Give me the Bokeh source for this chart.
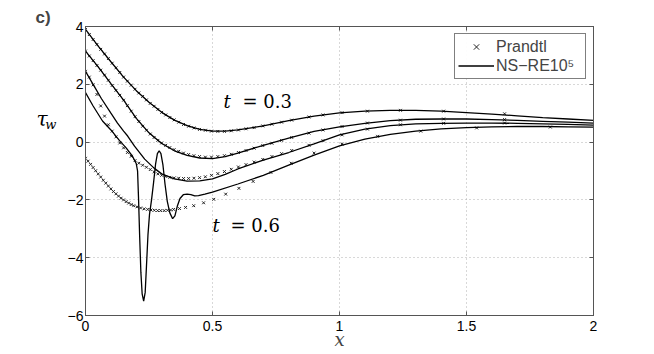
from bokeh.plotting import figure
from bokeh.models import Range1d, FixedTicker, LinearAxis, Label, Legend, LegendItem
from bokeh.embed import file_html
from bokeh.resources import INLINE

# ---------------- data ----------------
x_ticks = [0, 0.5, 1, 1.5, 2]
x_tick_labels = ["0", "0.5", "1", "1.5", "2"]
y_ticks = [-6, -4, -2, 0, 2, 4]
y_tick_labels = ["\u22126", "\u22124", "\u22122", "0", "2", "4"]

# Navier-Stokes (Re = 1e5) wall shear curves
ns_a_x = [0, 0.05, 0.1, 0.15, 0.2, 0.25, 0.3, 0.35, 0.4, 0.45, 0.5, 0.55, 0.6, 0.7, 0.8, 0.9,
          1.0, 1.1, 1.2, 1.3, 1.4, 1.5, 1.6, 1.7, 1.8, 1.9, 2.0]
ns_a_y = [3.9, 3.32, 2.78, 2.25, 1.78, 1.38, 1.03, 0.76, 0.57, 0.44, 0.38, 0.38, 0.42, 0.56, 0.74, 0.9,
          1.01, 1.07, 1.1, 1.1, 1.07, 1.02, 0.97, 0.91, 0.85, 0.8, 0.75]

ns_b_x = [0, 0.05, 0.1, 0.15, 0.2, 0.25, 0.3, 0.35, 0.4, 0.45, 0.5, 0.55, 0.6, 0.7, 0.8, 0.9,
          1.0, 1.1, 1.2, 1.3, 1.4, 1.5, 1.6, 1.7, 1.8, 1.9, 2.0]
ns_b_y = [3.15, 2.6, 2.02, 1.45, 0.82, 0.32, -0.05, -0.3, -0.46, -0.55, -0.57, -0.5, -0.38, -0.11, 0.14, 0.37,
          0.53, 0.65, 0.74, 0.79, 0.8, 0.8, 0.78, 0.75, 0.72, 0.69, 0.66]

ns_c_x = [0, 0.03, 0.063, 0.1, 0.126, 0.15, 0.166, 0.193, 0.233, 0.27, 0.3, 0.35, 0.4, 0.45, 0.5, 0.55,
          0.6, 0.7, 0.8, 0.9, 1.0, 1.1, 1.2, 1.3, 1.4, 1.5, 1.6, 1.7, 1.8, 1.9, 2.0]
ns_c_y = [2.45, 2.0, 1.5, 1.0, 0.66, 0.38, 0.21, -0.14, -0.59, -0.9, -1.1, -1.27, -1.35, -1.34, -1.27, -1.12,
          -0.93, -0.62, -0.36, -0.06, 0.25, 0.45, 0.57, 0.63, 0.65, 0.66, 0.66, 0.65, 0.63, 0.61, 0.59]

ns_d_x = [0, 0.03, 0.067, 0.1, 0.134, 0.16, 0.185, 0.2, 0.205, 0.209, 0.213, 0.218, 0.223, 0.229, 0.235,
          0.24, 0.246, 0.252, 0.26, 0.268, 0.276, 0.283, 0.29, 0.297, 0.305, 0.313, 0.322, 0.332, 0.343,
          0.352, 0.362, 0.372, 0.385, 0.4, 0.415, 0.43, 0.445, 0.47, 0.5, 0.6, 0.7, 0.8, 0.9, 1.0, 1.1,
          1.2, 1.3, 1.4, 1.5, 1.6, 1.7, 1.8, 1.9, 2.0]
ns_d_y = [1.71, 1.25, 0.73, 0.42, 0.05, -0.2, -0.49, -0.75, -1.0, -2.0, -3.2, -4.5, -5.25, -5.5, -5.2,
          -4.3, -3.2, -2.5, -2.0, -1.4, -0.75, -0.4, -0.3, -0.4, -0.8, -1.45, -2.05, -2.45, -2.65,
          -2.55, -2.2, -1.95, -1.82, -1.8, -1.82, -1.86, -1.85, -1.8, -1.73, -1.45, -1.15, -0.8, -0.45, -0.13, 0.1,
          0.27, 0.38, 0.46, 0.5, 0.53, 0.54, 0.54, 0.53, 0.52]

# Prandtl solutions (markers)
prandtl_x = [0, 0.015, 0.03, 0.045, 0.06, 0.075, 0.09, 0.105, 0.12, 0.135,
             0.15, 0.165, 0.18, 0.195, 0.21, 0.225, 0.24, 0.255, 0.27, 0.285,
             0.3, 0.316, 0.332, 0.349, 0.367, 0.386, 0.406, 0.427, 0.449, 0.472,
             0.496, 0.521, 0.547, 0.574, 0.602, 0.632, 0.664, 0.698, 0.734, 0.772,
             0.812, 0.88, 0.935, 1.01, 1.11, 1.24, 1.41, 1.65]
prandtl_a = [3.9, 3.72, 3.55, 3.38, 3.21, 3.05, 2.89, 2.73, 2.57, 2.41,
             2.25, 2.11, 1.97, 1.83, 1.7, 1.58, 1.46, 1.34, 1.24, 1.13,
             1.03, 0.94, 0.85, 0.77, 0.69, 0.61, 0.55, 0.49, 0.44, 0.41,
             0.38, 0.37, 0.37, 0.39, 0.42, 0.46, 0.5, 0.56, 0.62, 0.69,
             0.76, 0.87, 0.94, 1.02, 1.07, 1.1, 1.07, 0.98]
prandtl_b = [3.15, 2.98, 2.82, 2.65, 2.49, 2.32, 2.14, 1.96, 1.79, 1.62,
             1.45, 1.26, 1.07, 0.88, 0.71, 0.55, 0.41, 0.28, 0.16, 0.06,
             -0.03, -0.11, -0.19, -0.26, -0.32, -0.38, -0.43, -0.47, -0.5, -0.52,
             -0.52, -0.5, -0.47, -0.42, -0.36, -0.29, -0.21, -0.12, -0.04, 0.06,
             0.16, 0.31, 0.42, 0.54, 0.66, 0.76, 0.8, 0.78]
prandtl_c = [2.45, 2.25, 1.98, 1.65, 1.25, 0.9, 0.6, 0.38, 0.18, -0.03,
             -0.2, -0.36, -0.49, -0.64, -0.73, -0.8, -0.87, -0.95, -1.03, -1.1,
             -1.15, -1.19, -1.22, -1.24, -1.25, -1.26, -1.26, -1.25, -1.23, -1.2,
             -1.15, -1.09, -1.02, -0.94, -0.86, -0.78, -0.69, -0.6, -0.5, -0.4,
             -0.29, -0.11, 0.05, 0.25, 0.45, 0.6, 0.65, 0.66]
prandtl_e_x = [0, 0.01, 0.02, 0.03, 0.04, 0.05, 0.06, 0.07, 0.08, 0.09,
               0.1, 0.11, 0.12, 0.13, 0.14, 0.15, 0.16, 0.17, 0.18, 0.19,
               0.203, 0.217, 0.231, 0.245, 0.258, 0.271, 0.284, 0.296, 0.31, 0.323,
               0.335, 0.347, 0.37, 0.394, 0.426, 0.465, 0.505, 0.552, 0.604, 0.66,
               0.73, 0.81, 0.9, 1.01, 1.15, 1.32, 1.54, 1.83]
prandtl_e = [-0.56, -0.66, -0.77, -0.88, -0.99, -1.1, -1.21, -1.32, -1.42, -1.52,
             -1.62, -1.71, -1.79, -1.87, -1.94, -2.0, -2.06, -2.11, -2.16, -2.2,
             -2.24, -2.28, -2.31, -2.33, -2.35, -2.36, -2.37, -2.37, -2.37, -2.36,
             -2.35, -2.33, -2.3, -2.26, -2.2, -2.1, -1.98, -1.8, -1.6, -1.36,
             -1.05, -0.73, -0.38, -0.07, 0.2, 0.38, 0.49, 0.52]

legend_labels = ["Prandtl", "NS\u2212RE10\u2075"]

# ---------------- figure ----------------
W, H = 640, 354
FRAME = "#555555"
SERIF = "DejaVu Serif"
p = figure(width=W, height=H, x_range=Range1d(0, 2), y_range=Range1d(-6, 4),
           output_backend="svg", toolbar_location=None,
           min_border_left=85, min_border_right=47, min_border_top=26, min_border_bottom=39)
p.background_fill_color = "white"
p.border_fill_color = "white"
p.outline_line_color = FRAME
p.outline_line_width = 1

p.title.text = "c)"
p.title.text_font = "Liberation Sans"
p.title.text_font_style = "bold"
p.title.text_font_size = "17px"
p.title.align = "left"
p.title.offset = -50
p.title.standoff = 0

for ax, ticks, labels in ((p.xaxis[0], x_ticks, x_tick_labels), (p.yaxis[0], y_ticks, y_tick_labels)):
    ax.ticker = FixedTicker(ticks=ticks)
    ax.major_label_overrides = {t: l for t, l in zip(ticks, labels)}
    ax.major_tick_in = 4
    ax.major_tick_out = 0
    ax.minor_tick_line_color = None
    ax.axis_line_color = FRAME
    ax.major_tick_line_color = FRAME
    ax.major_label_text_font = "Liberation Sans"
    ax.major_label_text_font_size = "14px"
    ax.major_label_text_color = "black"
p.xaxis.major_label_standoff = 5
p.yaxis.major_label_standoff = 2

p.xaxis.axis_label = "x"
p.xaxis.axis_label_text_font = SERIF
p.xaxis.axis_label_text_font_style = "italic"
p.xaxis.axis_label_text_font_size = "18px"
p.xaxis.axis_label_standoff = -5

for ticks, side in ((x_ticks, "above"), (y_ticks, "right")):
    ax = LinearAxis(ticker=FixedTicker(ticks=ticks),
                    major_label_overrides={t: "" for t in ticks},
                    major_label_text_font_size="0px", major_label_standoff=0,
                    major_tick_in=4, major_tick_out=0, minor_tick_line_color=None,
                    axis_line_color=FRAME, major_tick_line_color=FRAME)
    p.add_layout(ax, side)

# y-axis symbol tau_w, built from two label-only axes placed left of the main axis;
# trailing blank lines lift the visible glyph above the axis centre
def symbol_axis(text, size, blank_lines, line_height, standoff):
    ax = LinearAxis(ticker=FixedTicker(ticks=[]), axis_label=text + "\n " * blank_lines,
                    axis_label_orientation="horizontal", axis_label_standoff=standoff,
                    axis_label_text_font=SERIF, axis_label_text_font_style="italic",
                    axis_label_text_font_size=size, axis_label_text_color="black",
                    axis_label_text_line_height=line_height,
                    axis_line_color=None, major_tick_line_color=None, minor_tick_line_color=None,
                    major_label_text_font_size="0px", major_tick_in=0, major_tick_out=0,
                    major_label_standoff=0)
    p.add_layout(ax, "left")

symbol_axis("w", "13px", 6, 1.025, 8)
symbol_axis("\u03c4", "20px", 4, 1.075, -5)

p.xgrid.ticker = FixedTicker(ticks=x_ticks)
p.ygrid.ticker = FixedTicker(ticks=y_ticks)
p.grid.grid_line_color = "#b0b0b0"
p.grid.grid_line_dash = "1 3"
p.grid.grid_line_width = 1

MK = dict(marker="x", size=4, line_color="#222222", line_width=1)
ra = p.scatter(prandtl_x, prandtl_a, **MK)
p.scatter(prandtl_x, prandtl_b, **MK)
p.scatter(prandtl_x, prandtl_c, **MK)
p.scatter(prandtl_e_x, prandtl_e, **MK)

LN = dict(line_color="black", line_width=1.3)
la = p.line(ns_a_x, ns_a_y, **LN)
p.line(ns_b_x, ns_b_y, **LN)
p.line(ns_c_x, ns_c_y, **LN)
p.line(ns_d_x, ns_d_y, **LN)

legend = Legend(items=[LegendItem(label=legend_labels[0], renderers=[ra]),
                       LegendItem(label=legend_labels[1], renderers=[la])],
                location="top_right", margin=7, padding=3, spacing=0,
                label_height=19, glyph_height=19, glyph_width=36, label_standoff=2,
                label_width=86, label_text_font="Liberation Sans", label_text_font_size="16px",
                border_line_color="black", border_line_width=1, background_fill_color="white")
p.add_layout(legend)

def lab(x, y, text, size, style="normal"):
    p.add_layout(Label(x=x, y=y, text=text, text_font=SERIF,
                       text_font_style=style, text_font_size=size, text_baseline="alphabetic",
                       text_align="left", text_color="black"))

# time annotations inside the frame (data units)
lab(0.543, 1.42, "t", "18px", "italic")
lab(0.618, 1.42, "= 0.3", "18px")
lab(0.5, -2.9, "t", "18px", "italic")
lab(0.571, -2.9, "= 0.6", "18px")

open("out.html", "w").write(file_html(p, INLINE))
